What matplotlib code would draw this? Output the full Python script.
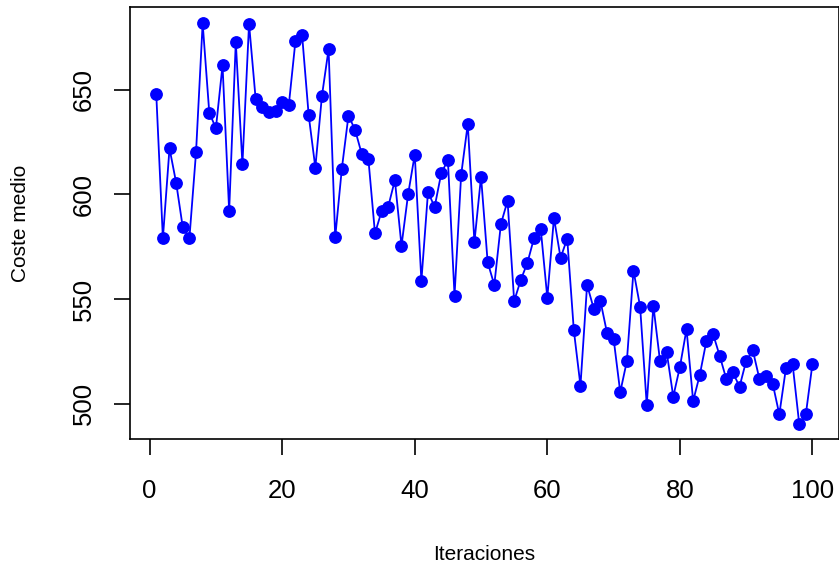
import matplotlib.pyplot as plt

plt.rcParams['font.family'] = ['Liberation Sans', 'DejaVu Sans']

iteraciones = list(range(1, 101))
coste = [648.0, 579.0, 622.0, 605.6, 584.3, 579.0, 620.0, 681.7, 639.0, 631.6,
         661.6, 592.0, 672.8, 614.4, 681.4, 645.4, 641.9, 639.5, 640.0, 644.0,
         642.7, 673.2, 676.2, 637.7, 612.8, 647.1, 669.3, 579.5, 612.3, 637.6,
         630.8, 619.3, 617.0, 581.4, 592.0, 594.2, 606.8, 575.5, 600.1, 619.0,
         558.7, 601.2, 594.0, 610.1, 616.4, 551.7, 609.3, 633.6, 577.2, 608.5,
         567.6, 556.8, 585.9, 596.9, 549.1, 559.2, 567.4, 579.2, 583.7, 550.7,
         588.8, 569.7, 578.9, 535.1, 508.7, 556.8, 545.5, 549.3, 534.0, 531.1,
         505.6, 520.4, 563.6, 546.4, 499.5, 546.9, 520.5, 524.9, 503.5, 517.6,
         535.6, 501.4, 513.8, 530.0, 533.4, 523.0, 511.9, 515.0, 508.2, 520.5,
         525.6, 511.9, 513.2, 509.7, 495.0, 517.0, 519.1, 490.6, 495.0, 519.1]

xticks = [0, 20, 40, 60, 80, 100]
yticks = [500, 550, 600, 650]

fig = plt.figure(figsize=(8.39, 5.71), dpi=100)
ax = fig.add_axes([130 / 839, 1 - 439.3 / 571, 708.7 / 839, 432 / 571])

ax.plot(iteraciones, coste, color='#0000FF', linewidth=1.3,
        marker='o', markersize=8.2)

ax.set_xlim(-2.96, 103.96)
ax.set_ylim(483.1, 689.3)
ax.set_xticks(xticks)
ax.set_yticks(yticks)

for s in ax.spines.values():
    s.set_linewidth(1.2)

ax.tick_params(axis='both', length=11.3, width=1.2, labelsize=18.5)
ax.tick_params(axis='x', pad=17)
ax.tick_params(axis='y', pad=13)
plt.setp(ax.get_yticklabels(), rotation=90, va='center')

ax.set_xlabel('Iteraciones', fontsize=15)
ax.set_ylabel('Coste medio', fontsize=15)
ax.xaxis.set_label_coords(0.5, (439.3 - 555) / 432)
ax.xaxis.label.set_va('center')
ax.yaxis.set_label_coords((20.8 - 130) / 708.7, 0.5)
ax.yaxis.label.set_va('center')

fig.savefig('out.png', dpi=100)
